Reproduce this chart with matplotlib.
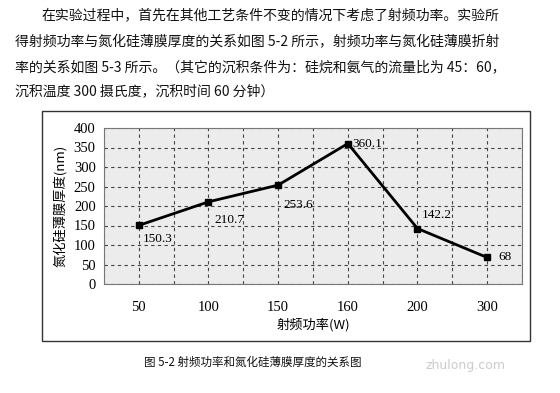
import matplotlib
matplotlib.use('Agg')
import matplotlib.pyplot as plt
from matplotlib.patches import Rectangle

plt.rcParams['font.family'] = ['Noto Sans CJK SC', 'DejaVu Sans']

# data
power_labels = ['50', '100', '150', '160', '200', '300']
thickness = [150.3, 210.7, 253.6, 360.1, 142.2, 68]
label_offsets = [(3, -10), (4, -13), (4, -14), (3, 0), (3, 10), (8, 0)]
yticks = [0, 50, 100, 150, 200, 250, 300, 350, 400]

paragraph = [
    '在实验过程中，首先在其他工艺条件不变的情况下考虑了射频功率。实验所',
    '得射频功率与氮化硅薄膜厚度的关系如图 5-2 所示，射频功率与氮化硅薄膜折射',
    '率的关系如图 5-3 所示。（其它的沉积条件为：硅烷和氨气的流量比为 45：60，',
    '沉积温度 300 摄氏度，沉积时间 60 分钟）',
]
caption = '图 5-2 射频功率和氮化硅薄膜厚度的关系图'

W, H = 560, 393
fig = plt.figure(figsize=(W / 100, H / 100), dpi=100)
fig.patch.set_facecolor('white')

# text block above the chart
line_y = [15, 42, 67, 91]
line_x = [41, 15, 15, 15]
for txt, x, y in zip(paragraph, line_x, line_y):
    fig.text(x / W, 1 - y / H, txt, fontsize=10, ha='left', va='center', color='#111111')

# outer chart frame
fig.patches.append(Rectangle((42 / W, 1 - 341 / H), 488 / W, 230 / H,
                             transform=fig.transFigure, fill=False,
                             edgecolor='#333333', lw=1.0))

ax = fig.add_axes([104 / W, 1 - 284 / H, 418 / W, 156 / H])
ax.set_facecolor('#ececec')
x = list(range(len(power_labels)))
ax.plot(x, thickness, color='black', lw=2, marker='s', markersize=4.5)
for xi, yi, off in zip(x, thickness, label_offsets):
    ax.annotate(f'{yi:g}', (xi, yi), xytext=off, textcoords='offset points',
                ha='left', va='center', fontsize=9.5, family='Liberation Serif')

ax.set_xlim(-0.5, len(power_labels) - 0.5)
ax.set_ylim(0, 400)
ax.set_yticks(yticks)
ax.set_yticklabels([str(v) for v in yticks], family='Liberation Serif', fontsize=10.5)
ax.set_xticks(x)
ax.set_xticklabels(power_labels, family='Liberation Serif', fontsize=10.5)
ax.set_xticks([i - 0.5 for i in range(len(power_labels) + 1)], minor=True)
ax.tick_params(axis='both', which='both', length=0)
ax.tick_params(axis='x', pad=12)
ax.tick_params(axis='y', pad=6)
ax.grid(True, which='both', axis='x', color='#444444', ls=(0, (3, 3)), lw=0.8)
ax.grid(True, which='major', axis='y', color='#444444', ls=(0, (3, 3)), lw=0.8)
ax.set_axisbelow(True)
for s in ax.spines.values():
    s.set_color('#777777')
    s.set_linewidth(0.8)

ax.set_xlabel('射频功率(W)', fontsize=9.5, labelpad=3)
ax.set_ylabel('氮化硅薄膜厚度(nm)', fontsize=9.5, labelpad=5)

fig.text(253 / W, 1 - 362 / H, caption, fontsize=8.3, ha='center', va='center', color='#111111')
fig.text(466 / W, 1 - 366 / H, 'zhulong.com', fontsize=9, ha='center', va='center',
         color='#cccccc', family='DejaVu Sans')

fig.savefig('out.png', dpi=100)
plt.close(fig)
